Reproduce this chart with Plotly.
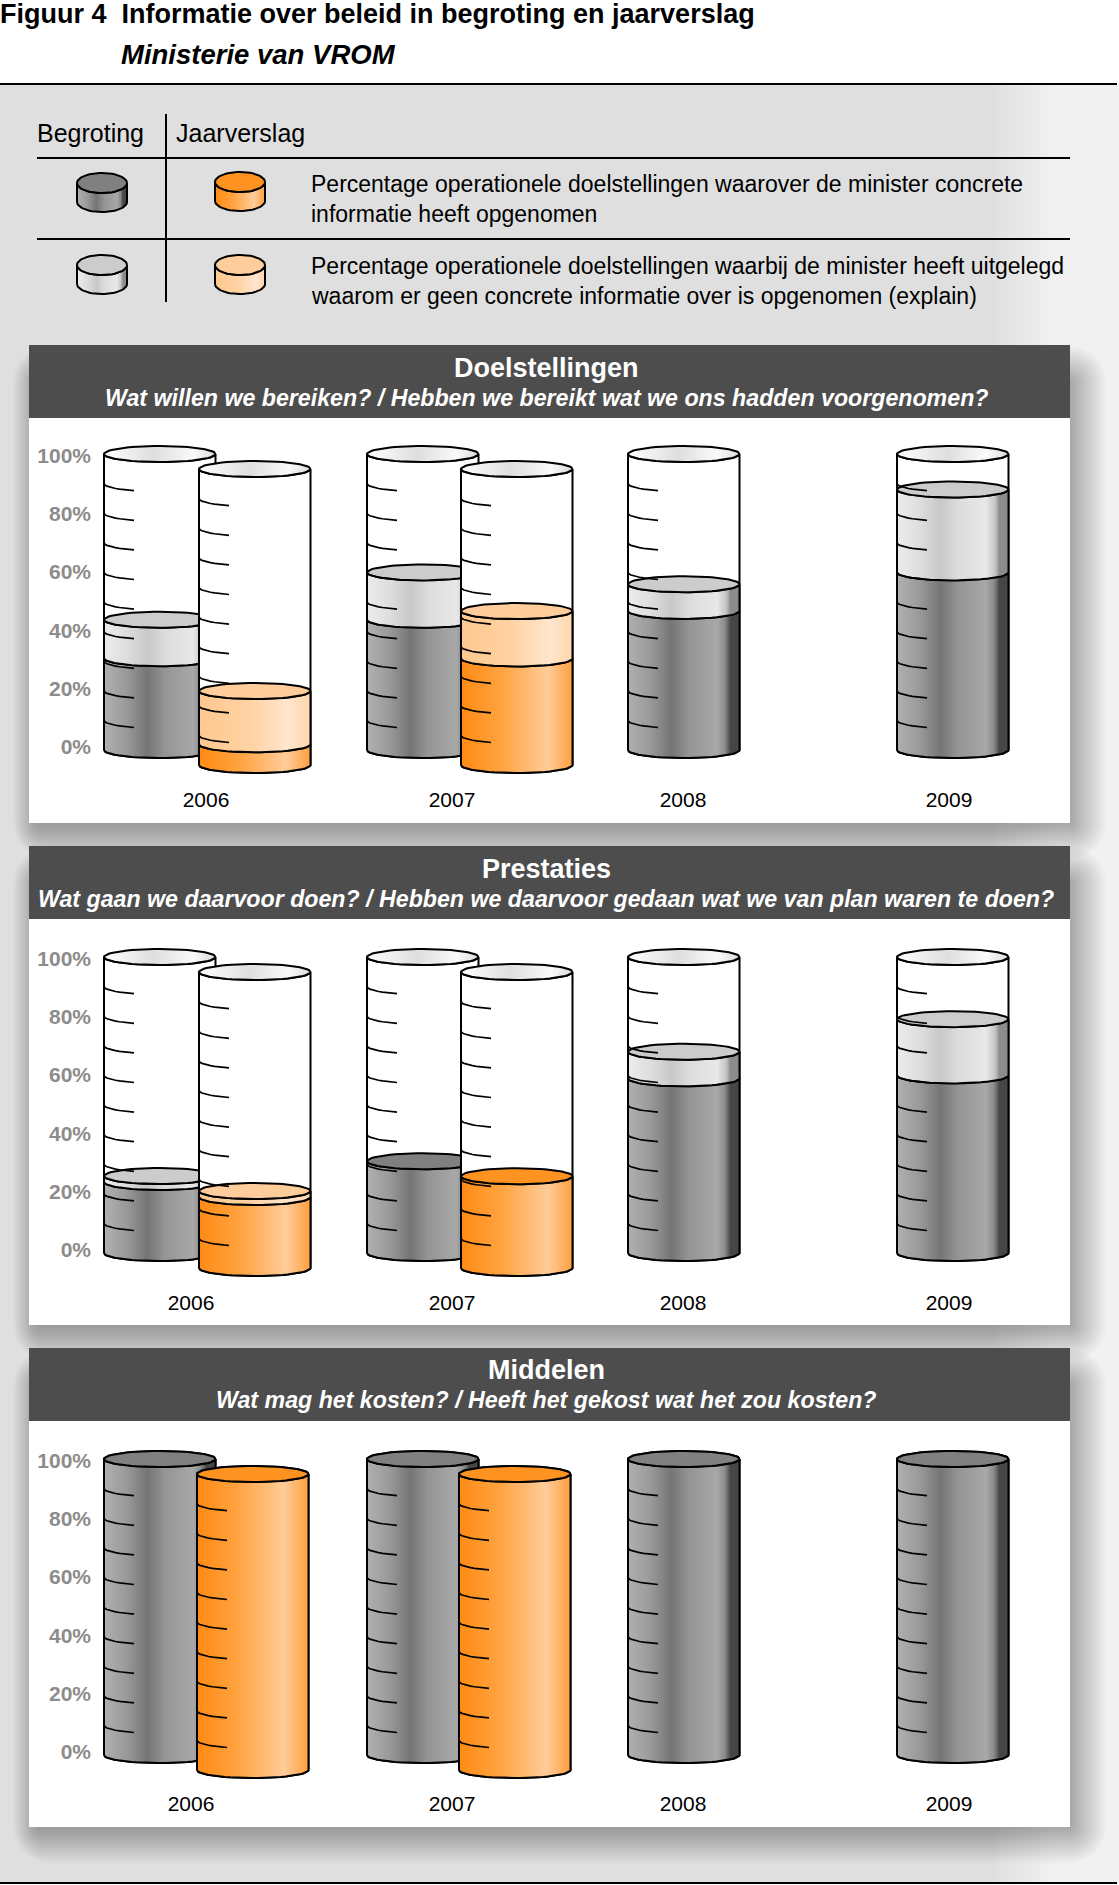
import math
import plotly.graph_objects as go

# ---------- data (percentages) ----------
years = ["2006", "2007", "2008", "2009"]
doel_begroting_concreet = [31, 44, 47, 60]
doel_begroting_explain = [13, 16, 9, 28]
doel_jaarverslag_concreet = [7, 36, None, None]
doel_jaarverslag_explain = [18, 16, None, None]
prest_begroting_concreet = [24, 31, 59, 60]
prest_begroting_explain = [2, 0, 9, 19]
prest_jaarverslag_concreet = [24, 31, None, None]
prest_jaarverslag_explain = [2, 0, None, None]
midd_begroting_concreet = [100, 100, 100, 100]
midd_begroting_explain = [0, 0, 0, 0]
midd_jaarverslag_concreet = [100, 100, None, None]
midd_jaarverslag_explain = [0, 0, None, None]
y_ticks = [0, 20, 40, 60, 80, 100]
scale_marks = [10, 20, 30, 40, 50, 60, 70, 80, 90]

title_line1 = "Figuur 4  Informatie over beleid in begroting en jaarverslag"
title_line2 = "Ministerie van VROM"
legend_heads = ["Begroting", "Jaarverslag"]
legend_rows = [
    ["Percentage operationele doelstellingen waarover de minister concrete",
     "informatie heeft opgenomen"],
    ["Percentage operationele doelstellingen waarbij de minister heeft uitgelegd",
     "waarom er geen concrete informatie over is opgenomen (explain)"],
]
panel_titles = ["Doelstellingen", "Prestaties", "Middelen"]
panel_subs = [
    "Wat willen we bereiken? / Hebben we bereikt wat we ons hadden voorgenomen?",
    "Wat gaan we daarvoor doen? / Hebben we daarvoor gedaan wat we van plan waren te doen?",
    "Wat mag het kosten? / Heeft het gekost wat het zou kosten?",
]

# ---------- styles ----------
W, H = 1119, 1885
FONT = "Liberation Sans"
BG = "#dfdfdf"
GRAD_DARK = [[0, "#b0b0b0"], [.2, "#9a9a9a"], [.39, "#757575"], [.55, "#959595"], [.8, "#a8a8a8"],
             [.87, "#8a8a8a"], [.92, "#464646"], [1, "#464646"]]
GRAD_LIGHT = [[0, "#ececec"], [.2, "#dedede"], [.39, "#c8c8c8"], [.55, "#dcdcdc"], [.8, "#e8e8e8"],
              [.88, "#c4c4c4"], [.92, "#8c8c8c"], [1, "#8c8c8c"]]
GRAD_ORANGE = [[0, "#ff8a14"], [.35, "#ffa23e"], [.78, "#ffcc99"], [1, "#ff9f3d"]]
GRAD_ORANGE_L = [[0, "#ffc88e"], [.45, "#ffd2a3"], [.8, "#ffe6cd"], [1, "#ffd6ac"]]
GRAD_EMPTY = [[0, "#ffffff"], [.45, "#dedede"], [.8, "#fafafa"], [1, "#dcdcdc"]]
CAP = {"dark": "#808080", "light": "#cccccc", "orange": "#ff9322", "orange_l": "#ffcd9b"}

S = 2.96            # pixels per percent
RX_N = 30
panels = [
    dict(top=345, mid=418, bot=823, zero=750, t1=368, t2=398, xf=0,
         year_x=[206, 452, 683, 949], year_y=785,
         bc=doel_begroting_concreet, be=doel_begroting_explain,
         jc=doel_jaarverslag_concreet, je=doel_jaarverslag_explain),
    dict(top=846, mid=919, bot=1325, zero=1253, t1=869, t2=899, xf=0,
         year_x=[191, 452, 683, 949], year_y=1288,
         bc=prest_begroting_concreet, be=prest_begroting_explain,
         jc=prest_jaarverslag_concreet, je=prest_jaarverslag_explain),
    dict(top=1348, mid=1421, bot=1827, zero=1755, t1=1370, t2=1400, xf=-2,
         year_x=[191, 452, 683, 949], year_y=1789,
         bc=midd_begroting_concreet, be=midd_begroting_explain,
         jc=midd_jaarverslag_concreet, je=midd_jaarverslag_explain),
]
BACK_X = [104, 367, 628, 897]
FRONT_X = [199, 461]
CW = 111.5
PX_RY = 8


# ---------- geometry helpers ----------
def arc(x0, x1, yc, ry, t0, t1, n=RX_N):
    """Elliptic arc, t in degrees from 180 (left) through 270 (front) to 360 (right)."""
    cx, rx = (x0 + x1) / 2, (x1 - x0) / 2
    xs, ys = [], []
    for i in range(n + 1):
        t = math.radians(t0 + (t1 - t0) * i / n)
        xs.append(cx + rx * math.cos(t))
        ys.append(yc - ry * math.sin(t))
    return xs, ys


fig = go.Figure()


def add_fill(xs, ys, grad, x0, x1, ya, xa, flat=None, lw=2.0):
    kw = dict(fillcolor=flat) if flat else dict(
        fillgradient=dict(type="horizontal", colorscale=grad, start=x0, stop=x1))
    fig.add_trace(go.Scatter(x=xs, y=ys, mode="lines", fill="toself", xaxis=xa, yaxis=ya,
                             line=dict(color="black", width=lw), hoverinfo="skip",
                             showlegend=False, **kw))


def segment(x0, x1, ylo, yhi, ry, grad, ya, xa, lw=2.0, flat=None):
    xl, yl = arc(x0, x1, ylo, ry, 180, 360)      # lower front arc, left to right
    xh, yh = arc(x0, x1, yhi, ry, 360, 180)      # upper front arc, right to left
    add_fill(xl + xh + [xl[0]], yl + yh + [yl[0]], grad, x0, x1, ya, xa, flat=flat, lw=lw)


def cap(x0, x1, yc, ry, ya, xa, flat=None, grad=None, lw=2.0):
    xs, ys = arc(x0, x1, yc, ry, 0, 360, n=60)
    add_fill(xs, ys, grad, x0, x1, ya, xa, flat=flat, lw=lw)


def cylinder(x0, conc, expl, ya, xa, base, grad_c, grad_e, cap_c, cap_e):
    x1 = x0 + CW
    u = 1 / S
    ry = -PX_RY * u           # values grow upward, so the front of an ellipse lies at lower values
    b = base * u
    segment(x0, x1, b, 100 + b, ry, None, ya, xa, flat="#ffffff")
    cap(x0, x1, 100 + b, ry, ya, xa, grad=GRAD_EMPTY)
    if conc:
        segment(x0, x1, b, conc + b, ry, grad_c, ya, xa)
    if expl:
        segment(x0, x1, conc + b, conc + expl + b, ry, grad_e, ya, xa)
    top = conc + expl
    if top:
        cap(x0, x1, top + b, ry, ya, xa, flat=cap_e if expl else cap_c)
    # scale marks: short stretches of the front arc, starting at the left edge
    tx, ty = [], []
    for m in scale_marks:
        frac = math.degrees(math.acos(1 - 30 / (CW / 2)))
        xs, ys = arc(x0, x1, m + b, ry, 180, 180 + frac, n=10)
        tx += xs + [None]
        ty += ys + [None]
    fig.add_trace(go.Scatter(x=tx, y=ty, mode="lines", xaxis=xa, yaxis=ya, hoverinfo="skip",
                             showlegend=False, line=dict(color="black", width=1.7)))


# ---------- panels ----------
layout_axes = {}
for i, p in enumerate(panels):
    n = "" if i == 0 else str(i + 1)
    ya, xa = "y" + n, "x" + n
    for k, year in enumerate(years):
        cylinder(BACK_X[k], p["bc"][k], p["be"][k], ya, xa, 0, GRAD_DARK, GRAD_LIGHT, CAP["dark"], CAP["light"])
        if p["jc"][k] is not None:
            cylinder(FRONT_X[k] + p["xf"], p["jc"][k], p["je"][k], ya, xa, -15, GRAD_ORANGE, GRAD_ORANGE_L,
                     CAP["orange"], CAP["orange_l"])
    # the printed labels run on a slightly tighter step than the scale itself
    layout_axes["yaxis" + n] = dict(
        domain=[1 - p["bot"] / H, 1 - p["mid"] / H],
        range=[(p["zero"] - p["bot"]) / S, (p["zero"] - p["mid"]) / S],
        anchor="free", position=91 / W, showgrid=False, zeroline=False, showline=False, ticks="",
        tickmode="array", tickvals=[1 + v * 0.985 for v in y_ticks], ticktext=[f"{v}%" for v in y_ticks],
        tickfont=dict(family=FONT, size=21, color="#8c8c8c", weight="bold"),
    )
    layout_axes["xaxis" + n] = dict(
        domain=[0, 1], range=[0, W], anchor="free", position=1 - p["year_y"] / H,
        showgrid=False, zeroline=False, showline=False, ticks="",
        tickmode="array", tickvals=p["year_x"], ticktext=years,
        tickfont=dict(family=FONT, size=21, color="black"),
    )

# ---------- legend icons on a page-pixel axis ----------
layout_axes["xaxis4"] = dict(domain=[0, 1], range=[0, W], visible=False)
layout_axes["yaxis4"] = dict(domain=[0, 1], range=[H, 0], visible=False, anchor="x4")
legend_icons = [(77, 183, GRAD_DARK, CAP["dark"]), (215, 182, GRAD_ORANGE, CAP["orange"]),
                (77, 265, GRAD_LIGHT, CAP["light"]), (215, 265, GRAD_ORANGE_L, CAP["orange_l"])]
for x0, yt, g, c in legend_icons:
    segment(x0, x0 + 50, yt + 19, yt, 10, g, "y4", "x4", lw=2)
    cap(x0, x0 + 50, yt, 10, "y4", "x4", flat=c, lw=2)

# ---------- page furniture ----------
shapes, ann = [], []


def rect(x0, y0, x1, y1, color):
    shapes.append(dict(type="rect", xref="paper", yref="paper", layer="below", x0=x0 / W, x1=x1 / W,
                       y0=1 - y0 / H, y1=1 - y1 / H, fillcolor=color, line=dict(width=0)))


def rounded(x0, y0, x1, y1, r, color):
    """Rounded rectangle as a pixel-page path, used for the soft shadow."""
    fx, fy = (lambda v: v / W), (lambda v: 1 - v / H)
    pts = []
    for cx, cy, a0 in [(x1 - r, y0 + r, -90), (x1 - r, y1 - r, 0), (x0 + r, y1 - r, 90), (x0 + r, y0 + r, 180)]:
        for s in range(7):
            a = math.radians(a0 + s * 15)
            pts.append((fx(cx + r * math.cos(a)), fy(cy + r * math.sin(a))))
    path = "M " + " L ".join(f"{a:.6f},{b:.6f}" for a, b in pts) + " Z"
    shapes.append(dict(type="path", xref="paper", yref="paper", layer="below", path=path,
                       fillcolor=color, line=dict(width=0)))


def hline(x0, x1, y0, y1, w=2):
    shapes.append(dict(type="line", xref="paper", yref="paper", layer="below", x0=x0 / W, x1=x1 / W,
                       y0=1 - y0 / H, y1=1 - y1 / H, line=dict(color="black", width=w)))


def text(x, y, s, size, color="black", anchor="left", bold=False, italic=False):
    if bold:
        s = f"<b>{s}</b>"
    if italic:
        s = f"<i>{s}</i>"
    ann.append(dict(xref="paper", yref="paper", x=x / W, y=1 - y / H, text=s, showarrow=False,
                    xanchor=anchor, yanchor="middle", align="left", borderpad=0, borderwidth=0,
                    font=dict(family=FONT, size=size, color=color)))


rect(0, 84, W, 1883, BG)
for j in range(28):  # page background fades out to the right
    rect(995 + j * 4, 84, W, 1883, "rgba(255,255,255,0.065)")
for p in panels:
    for k in range(24):  # soft drop shadow
        d = k * 1.5
        rounded(29 + 8 - d * 0.7, p["top"] + 35 - d, 1070 + 2 + d, p["bot"] + 2 + d, 2 + d, "rgba(0,0,0,0.012)")
    rect(29, p["top"], 1070, p["mid"], "#4d4d4d")
    rect(29, p["mid"], 1070, p["bot"], "#ffffff")
for p, t, s in zip(panels, panel_titles, panel_subs):
    text(546, p["t1"], t, 27, color="white", anchor="center", bold=True)
    text(546, p["t2"], s, 23.2, color="white", anchor="center", bold=True, italic=True)

hline(0, 1117, 84, 84)
hline(0, 1117, 1883, 1883)
hline(37, 1070, 158, 158)
hline(37, 1070, 239, 239)
hline(166, 166, 114, 302)

text(0, 14.5, title_line1, 27, bold=True)
text(121, 54.5, title_line2, 27.5, bold=True, italic=True)
text(37, 133, legend_heads[0], 25)
text(176, 133, legend_heads[1], 25)
for (l1, l2), (y1, y2) in zip(legend_rows, [(184, 214), (266, 296)]):
    text(311, y1, l1, 23)
    text(311, y2, l2, 23)

fig.update_layout(width=W, height=H, margin=dict(l=0, r=0, t=0, b=0), autosize=False,
                  paper_bgcolor="white", plot_bgcolor="rgba(0,0,0,0)", showlegend=False,
                  shapes=shapes, annotations=ann, **layout_axes)
fig.write_html("out.html", config=dict(displayModeBar=False),
               post_script="document.body.style.margin='0';document.body.style.overflow='hidden';")
